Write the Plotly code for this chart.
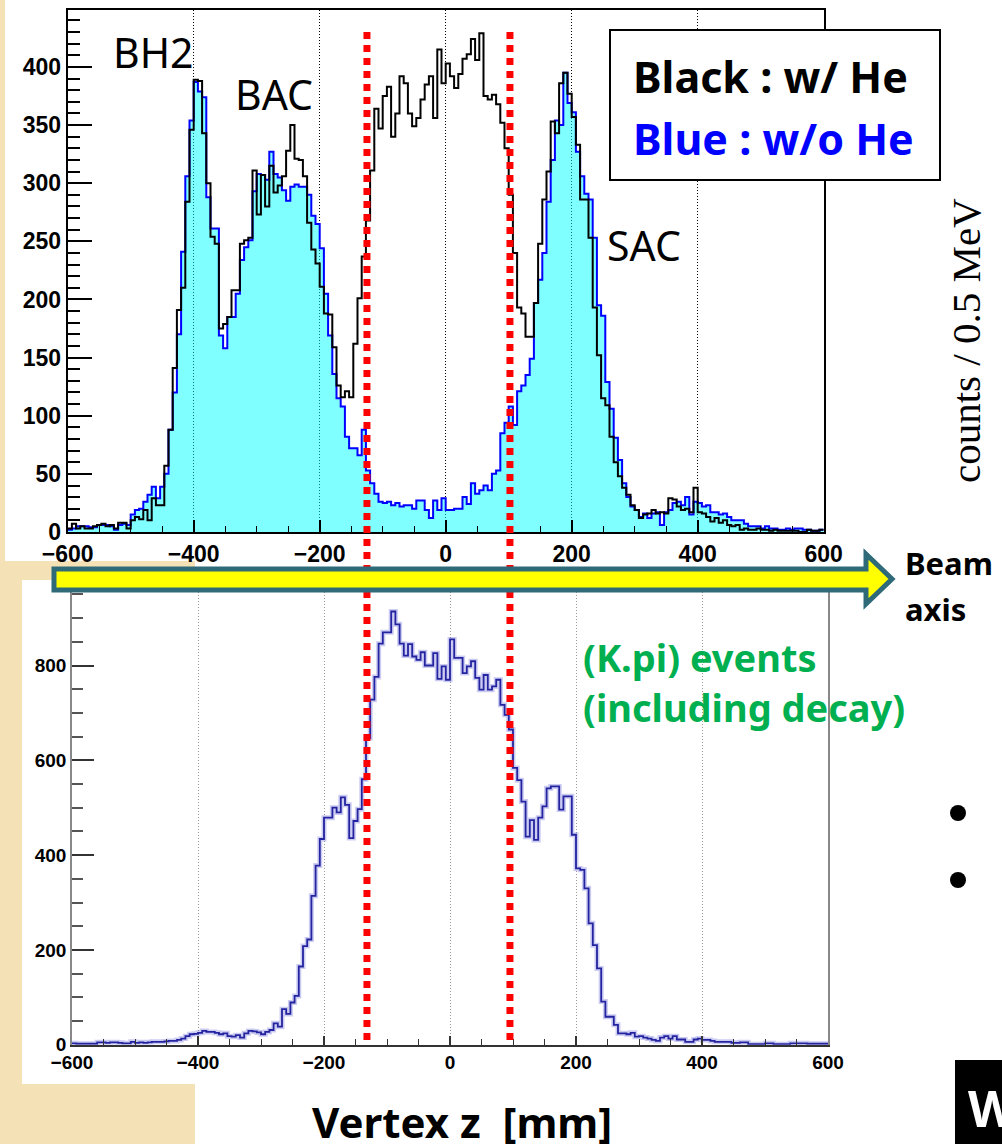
import numpy as np
import plotly.graph_objects as go

W, H = 1002, 1144

# ---------------- data ----------------
n_bins = 180
z_min, z_max = -600, 600

# top panel: black = with He, blue = without He (counts per bin)
black_with_he = [
    3, 7, 3, 5, 3, 3, 5, 6, 7, 5,
    6, 3, 8, 8, 3, 10, 13, 11, 19, 10,
    29, 23, 23, 57, 88, 141, 191, 210, 284, 346,
    389, 388, 343, 300, 254, 248, 175, 179, 185, 208,
    208, 248, 251, 253, 311, 273, 307, 280, 315, 292,
    298, 306, 328, 350, 321, 320, 306, 266, 243, 231,
    211, 188, 187, 159, 126, 116, 121, 116, 162, 201,
    237, 268, 311, 364, 347, 375, 383, 340, 360, 392,
    386, 360, 349, 356, 372, 385, 392, 356, 415, 386,
    403, 392, 382, 394, 407, 411, 424, 406, 429, 375,
    372, 376, 368, 352, 330, 290, 240, 193, 188, 168,
    168, 197, 248, 286, 310, 353, 343, 386, 395, 377,
    357, 333, 286, 286, 253, 193, 152, 115, 109, 82,
    60, 48, 38, 32, 23, 19, 12, 15, 16, 19,
    16, 17, 16, 29, 28, 22, 19, 20, 17, 38,
    17, 16, 13, 9, 12, 8, 10, 6, 5, 6,
    2, 3, 2, 2, 3, 2, 2, 1, 2, 1,
    1, 1, 1, 1, 0, 0, 2, 1, 1, 2,
]
blue_without_he = [
    2, 3, 5, 5, 5, 4, 4, 6, 6, 6,
    5, 2, 6, 7, 6, 15, 19, 20, 26, 32,
    39, 29, 39, 50, 88, 120, 170, 241, 306, 354,
    387, 379, 374, 288, 261, 261, 169, 158, 185, 185,
    205, 234, 245, 251, 293, 308, 307, 303, 327, 308,
    305, 294, 285, 297, 299, 297, 297, 290, 272, 265,
    244, 205, 169, 136, 115, 108, 82, 72, 72, 66,
    88, 53, 42, 33, 26, 25, 26, 23, 25, 22,
    23, 23, 20, 27, 27, 19, 12, 27, 19, 29,
    19, 19, 20, 20, 30, 24, 42, 33, 36, 40,
    36, 50, 53, 85, 94, 108, 92, 121, 126, 135,
    149, 197, 217, 240, 284, 320, 354, 350, 395, 369,
    361, 327, 306, 291, 286, 253, 195, 186, 129, 106,
    81, 62, 42, 30, 22, 19, 13, 16, 12, 16,
    17, 6, 17, 19, 25, 26, 23, 30, 15, 26,
    25, 22, 23, 17, 17, 15, 16, 13, 10, 10,
    10, 7, 5, 5, 5, 3, 5, 3, 3, 2,
    2, 3, 2, 3, 3, 2, 2, 1, 1, 2,
]
# bottom panel: (K.pi) events
kpi_events = [
    3, 2, 2, 2, 2, 2, 5, 5, 4, 5,
    5, 4, 3, 3, 6, 4, 5, 4, 5, 6,
    6, 6, 7, 8, 8, 10, 13, 18, 22, 23,
    25, 29, 27, 27, 25, 22, 24, 18, 17, 20,
    15, 24, 29, 28, 26, 22, 27, 31, 45, 38,
    75, 65, 89, 103, 165, 208, 222, 314, 378, 434,
    479, 479, 500, 490, 522, 506, 436, 472, 497, 560,
    647, 728, 776, 846, 870, 870, 914, 887, 846, 821,
    845, 819, 812, 828, 800, 800, 826, 772, 798, 770,
    855, 816, 816, 784, 798, 809, 774, 749, 780, 749,
    756, 770, 717, 696, 665, 584, 558, 513, 439, 474,
    432, 479, 503, 541, 545, 545, 496, 524, 524, 443,
    372, 369, 330, 256, 210, 161, 91, 59, 59, 42,
    24, 24, 22, 25, 17, 18, 15, 13, 10, 8,
    15, 18, 13, 18, 11, 11, 6, 6, 11, 13,
    10, 10, 8, 6, 6, 6, 6, 4, 4, 5,
    5, 1, 1, 1, 1, 3, 3, 1, 1, 1,
    1, 3, 3, 3, 3, 2, 2, 2, 2, 2,
]

cut_z_mm = [-125, 102]                       # red dotted selection cuts
x_tick_vals = [-600, -400, -200, 0, 200, 400, 600]
top_y_tick_vals = [0, 50, 100, 150, 200, 250, 300, 350, 400]
bottom_y_tick_vals = [0, 200, 400, 600, 800]

# ---------------- helpers ----------------
def fx(x):
    return x / W

def fy(y):
    return 1 - y / H

edges = np.linspace(z_min, z_max, n_bins + 1)

def step(vals):
    v = np.asarray(vals, dtype=float)
    return np.append(v, v[-1])

fig = go.Figure()

# top: blue (w/o He) filled, black (w/ He) outline
fig.add_trace(go.Scatter(
    x=edges, y=step(blue_without_he), mode="lines", line_shape="hv",
    line=dict(color="#0000FF", width=2), fill="tozeroy",
    fillcolor="rgba(0,255,255,0.5)", xaxis="x", yaxis="y",
    hoverinfo="skip", showlegend=False))
fig.add_trace(go.Scatter(
    x=edges, y=step(black_with_he), mode="lines", line_shape="hv",
    line=dict(color="#000000", width=2), xaxis="x", yaxis="y",
    hoverinfo="skip", showlegend=False))

# bottom: (K.pi) events (soft halo + line)
fig.add_trace(go.Scatter(
    x=edges, y=step(kpi_events), mode="lines", line_shape="hv",
    line=dict(color="rgba(110,110,220,0.35)", width=5), xaxis="x2", yaxis="y2",
    hoverinfo="skip", showlegend=False))
fig.add_trace(go.Scatter(
    x=edges, y=step(kpi_events), mode="lines", line_shape="hv",
    line=dict(color="#2424A0", width=1.8), xaxis="x2", yaxis="y2",
    hoverinfo="skip", showlegend=False))

tick_font_top = dict(family="Liberation Sans", size=23, color="black", weight="bold")
tick_font_bot = dict(family="Liberation Sans", size=19, color="black", weight="bold")

shapes = []
# slide background pieces
shapes.append(dict(type="rect", xref="paper", yref="paper", layer="below",
                   x0=fx(0), x1=fx(195), y0=fy(1144), y1=fy(0),
                   fillcolor="#F4E2B6", line=dict(width=0)))
shapes.append(dict(type="rect", xref="paper", yref="paper", layer="below",
                   x0=fx(5), x1=fx(1002), y0=fy(561), y1=fy(0),
                   fillcolor="white", line=dict(width=0)))
shapes.append(dict(type="rect", xref="paper", yref="paper", layer="below",
                   x0=fx(22), x1=fx(1002), y0=fy(1084), y1=fy(580),
                   fillcolor="white", line=dict(width=0)))
# red dotted cut lines spanning both panels
for c in cut_z_mm:
    shapes.append(dict(type="line", xref="x", yref="paper", x0=c, x1=c,
                       y0=fy(1040), y1=fy(28),
                       line=dict(color="#FF0000", width=7, dash="7px,6px")))
# beam-axis arrow
pts = [(54, 569), (866, 569), (866, 554), (892, 579), (866, 604), (866, 590), (54, 590)]
path = "M " + " L ".join(f"{fx(x):.5f},{fy(y):.5f}" for x, y in pts) + " Z"
shapes.append(dict(type="path", xref="paper", yref="paper", path=path,
                   fillcolor="#FFFF00", line=dict(color="#2E6A78", width=5)))
# legend box
shapes.append(dict(type="rect", xref="paper", yref="paper",
                   x0=fx(610), x1=fx(940), y0=fy(180), y1=fy(30),
                   fillcolor="white", line=dict(color="black", width=2)))
# black block bottom right
shapes.append(dict(type="rect", xref="paper", yref="paper",
                   x0=fx(955), x1=fx(1004), y0=fy(1146), y1=fy(1060),
                   fillcolor="black", line=dict(width=0)))
# bullets
for yb in (813, 880):
    shapes.append(dict(type="circle", xref="paper", yref="paper",
                       x0=fx(950), x1=fx(966), y0=fy(yb + 8), y1=fy(yb - 8),
                       fillcolor="black", line=dict(width=0)))

def ann(text, x, y, size, color="black", family="Noto Sans", weight="normal",
        xanchor="left", angle=0):
    return dict(text=text, x=fx(x), y=fy(y), xref="paper", yref="paper",
                xanchor=xanchor, yanchor="middle", showarrow=False,
                textangle=angle,
                font=dict(family=family, size=size, color=color, weight=weight))

annotations = [
    ann("BH2", 111, 52, 41),
    ann("BAC", 233, 94, 41),
    ann("SAC", 605, 245, 41),
    ann("Black : w/ He", 631, 77, 43, weight="bold"),
    ann("Blue : w/o He", 631, 138, 43, color="#0000FF", weight="bold"),
    ann("counts / 0.5 MeV", 966, 341, 41, family="Liberation Serif",
        xanchor="center", angle=-90),
    ann("Beam", 903, 563, 31, weight="bold"),
    ann("axis", 903, 609, 31, weight="bold"),
    ann("(K.pi) events", 581, 657, 38, color="#00B050", weight="bold"),
    ann("(including decay)", 581, 707, 38, color="#00B050", weight="bold"),
    ann("Vertex z\u00a0 [mm]", 462, 1121, 42, weight="bold", xanchor="center"),
    ann("W", 966, 1108, 50, color="white", weight="bold"),
]

fig.update_layout(
    width=W, height=H, autosize=False,
    margin=dict(l=0, r=0, t=0, b=0, pad=0),
    paper_bgcolor="white", plot_bgcolor="rgba(0,0,0,0)",
    showlegend=False,
    xaxis=dict(domain=[fx(67.7), fx(823.7)], range=[z_min, z_max], anchor="y",
               automargin=False,
               tickmode="array", tickvals=x_tick_vals,
               ticks="inside", ticklen=12, tickwidth=1.5, tickcolor="black",
               minor=dict(ticks="inside", ticklen=6, tickwidth=1, tickcolor="black",
                          tickmode="linear", tick0=-600, dtick=50, showgrid=False),
               showgrid=True, gridcolor="black", griddash="1px,2px", gridwidth=1,
               showline=True, linecolor="black", linewidth=2, mirror=True,
               zeroline=False, tickfont=tick_font_top),
    yaxis=dict(domain=[fy(532), fy(10)], range=[0, 449], anchor="x",
               automargin=False,
               tickmode="array", tickvals=top_y_tick_vals,
               ticks="inside", ticklen=24, tickwidth=1.5, tickcolor="black",
               minor=dict(ticks="inside", ticklen=12, tickwidth=1.5, tickcolor="black",
                          tickmode="linear", tick0=0, dtick=10, showgrid=False),
               showgrid=False, showline=True, linecolor="black", linewidth=2,
               mirror=True, zeroline=False, tickfont=tick_font_top),
    xaxis2=dict(domain=[fx(72), fx(828)], range=[z_min, z_max], anchor="y2",
                automargin=False,
                tickmode="array", tickvals=x_tick_vals,
                ticks="inside", ticklen=9, tickwidth=1.5, tickcolor="#333",
                minor=dict(ticks="inside", ticklen=6, tickwidth=1, tickcolor="#333",
                           tickmode="linear", tick0=-600, dtick=50, showgrid=False),
                showgrid=True, gridcolor="#9a9a9a", griddash="1px,2px", gridwidth=1,
                showline=True, linecolor="#333", linewidth=1.5, mirror=True,
                zeroline=False, tickfont=tick_font_bot),
    yaxis2=dict(domain=[fy(1044.7), fy(571.2)], range=[0, 999], anchor="x2",
                automargin=False,
                tickmode="array", tickvals=bottom_y_tick_vals,
                ticks="inside", ticklen=22, tickwidth=1.5, tickcolor="#333",
                minor=dict(ticks="inside", ticklen=11, tickwidth=1.5, tickcolor="#555",
                           tickmode="linear", tick0=0, dtick=50, showgrid=False),
                showgrid=False, showline=True, linecolor="#888", linewidth=1.5,
                mirror=True, zeroline=False, tickfont=tick_font_bot),
    shapes=shapes,
    annotations=annotations,
)

fig.write_html("out.html", config={"displayModeBar": False})
